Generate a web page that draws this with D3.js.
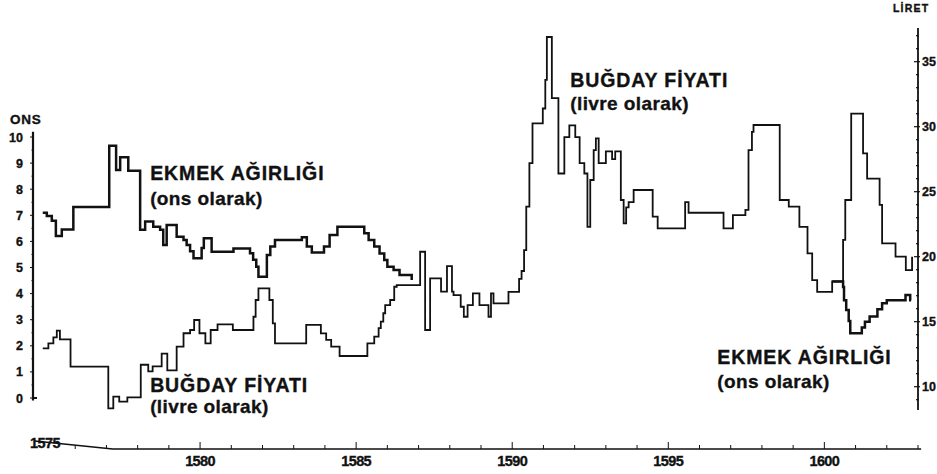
<!DOCTYPE html>
<html>
<head>
<meta charset="utf-8">
<script src="https://cdn.jsdelivr.net/npm/d3@7/dist/d3.min.js"></script>
<style>
  body { margin: 0; background: #fff; }
  svg text { font-family: "Liberation Sans", Arial, sans-serif; font-weight: bold; fill: #111; stroke: #111; stroke-width: 0.35; }
</style>
</head>
<body>
<div id="chart"></div>
<script>
// bread weight (ounces), step starts: [year, ons]
var breadEarly = [
  [1574.96, 7.10], [1575.09, 6.97], [1575.25, 6.79], [1575.38, 6.21], [1575.57, 6.46],
  [1575.94, 7.32], [1577.09, 9.66], [1577.31, 8.74], [1577.44, 9.22], [1577.70, 8.71],
  [1578.08, 6.45], [1578.24, 6.76], [1578.50, 6.56], [1578.72, 6.45], [1578.82, 5.86],
  [1578.93, 6.63], [1579.25, 6.18], [1579.47, 6.05], [1579.57, 5.86], [1579.68, 5.62],
  [1579.79, 5.35], [1580.05, 5.75], [1580.12, 6.12], [1580.37, 5.60], [1581.07, 5.73],
  [1581.60, 5.55], [1581.70, 5.30], [1581.80, 5.03], [1581.87, 4.65], [1582.14, 5.48],
  [1582.25, 5.80], [1582.40, 6.05], [1583.26, 6.16], [1583.42, 5.80], [1583.58, 5.57],
  [1583.97, 5.80], [1584.15, 6.25], [1584.40, 6.56], [1585.26, 6.31], [1585.40, 6.05],
  [1585.58, 5.80], [1585.75, 5.54], [1585.90, 5.29], [1586.00, 5.03], [1586.20, 4.90],
  [1586.39, 4.71], [1586.78, 4.52]
];
var breadLate = [
  [1600.25, 4.46], [1600.60, 4.25], [1600.63, 3.75], [1600.70, 3.37], [1600.78, 2.95],
  [1600.83, 2.48], [1601.20, 2.70], [1601.30, 2.92], [1601.45, 3.12], [1601.70, 3.40],
  [1601.85, 3.63], [1602.00, 3.75], [1602.60, 3.95], [1602.75, 3.75], [1602.78, 3.75]
];
// wheat price (livres), step starts: [year, livre]
var wheatPrice = [
  [1574.96, 12.95], [1575.14, 13.34], [1575.30, 13.80], [1575.41, 14.31], [1575.51, 13.64],
  [1575.85, 11.55], [1577.06, 8.34], [1577.22, 9.23], [1577.41, 8.85], [1577.67, 9.18],
  [1578.10, 11.69], [1578.34, 11.18], [1578.48, 11.57], [1578.77, 12.54], [1578.95, 11.26],
  [1579.25, 13.08], [1579.47, 14.11], [1579.68, 14.36], [1579.81, 15.13], [1579.98, 14.11],
  [1580.17, 13.34], [1580.34, 14.36], [1580.56, 14.80], [1581.05, 14.36], [1581.71, 15.38],
  [1581.78, 16.67], [1581.87, 17.57], [1582.22, 16.67], [1582.33, 14.87], [1582.40, 13.34],
  [1583.40, 14.75], [1583.87, 14.10], [1584.04, 13.60], [1584.20, 13.08], [1584.47, 12.36],
  [1585.36, 13.34], [1585.58, 13.85], [1585.72, 14.50], [1585.79, 15.00], [1585.87, 15.65],
  [1585.93, 16.28], [1586.09, 16.67], [1586.22, 17.69], [1586.30, 17.82], [1587.05, 20.38],
  [1587.21, 14.36], [1587.37, 18.34], [1587.72, 17.31], [1587.91, 19.28], [1588.07, 17.31],
  [1588.12, 17.05], [1588.35, 16.15], [1588.45, 15.38], [1588.57, 16.28], [1588.74, 17.18],
  [1588.95, 16.28], [1589.24, 15.38], [1589.32, 17.18], [1589.40, 16.41], [1589.88, 17.30],
  [1590.22, 18.30], [1590.30, 18.90], [1590.38, 20.50], [1590.45, 23.85], [1590.55, 27.20],
  [1590.65, 30.26], [1590.98, 31.40], [1591.06, 33.60], [1591.11, 36.90], [1591.27, 32.20],
  [1591.48, 26.40], [1591.67, 29.20], [1591.83, 30.10], [1592.02, 29.20], [1592.16, 27.20],
  [1592.31, 26.40], [1592.41, 22.30], [1592.50, 25.90], [1592.61, 28.20], [1592.68, 29.10],
  [1592.77, 27.20], [1593.00, 28.10], [1593.20, 27.50], [1593.30, 28.10], [1593.48, 24.36],
  [1593.57, 22.57], [1593.65, 23.80], [1593.73, 24.20], [1593.89, 25.13], [1594.50, 23.08],
  [1594.66, 22.18], [1595.54, 24.20], [1595.65, 23.38], [1596.77, 22.18], [1597.07, 23.20],
  [1597.47, 23.60], [1597.57, 28.20], [1597.68, 29.60], [1597.73, 30.13], [1598.57, 24.36],
  [1598.86, 23.85], [1599.20, 22.30], [1599.46, 20.26], [1599.61, 18.20], [1599.77, 17.30],
  [1600.25, 18.10], [1600.60, 21.30], [1600.67, 24.36], [1600.86, 31.00], [1601.24, 27.95],
  [1601.37, 26.00], [1601.77, 23.98], [1601.85, 21.03], [1602.28, 20.00], [1602.61, 18.97],
  [1602.81, 20.00]
];

var onsTicks = d3.range(0, 11);
var liretTicks = [10, 15, 20, 25, 30, 35];
var yearLabels = [1575, 1580, 1585, 1590, 1595, 1600];
var breadTitle = ["EKMEK AĞIRLIĞI", "(ons olarak)"];
var wheatTitle = ["BUĞDAY FİYATI", "(livre olarak)"];

var width = 937, height = 474;
var svg = d3.select("#chart").append("svg")
  .attr("width", width).attr("height", height);

var x = d3.scaleLinear().domain([1575, 1603]).range([44, 918]);
var yL = d3.scaleLinear().domain([0, 10]).range([398, 137]);
var yR = d3.scaleLinear().domain([10, 35]).range([386.7, 61.7]);

var ink = "#111";
var narrow = "'Liberation Sans Narrow', 'Liberation Sans', sans-serif";

// left axis (ons)
var leftX = 33;
svg.append("line")
  .attr("x1", leftX).attr("x2", leftX)
  .attr("y1", yL(10.2)).attr("y2", yL(-0.1))
  .attr("stroke", ink).attr("stroke-width", 2.2);
svg.selectAll(".lminor").data(d3.range(0, 10.01, 0.5))
  .enter().append("line")
  .attr("x1", leftX).attr("x2", function(d) { return leftX - (d % 1 === 0 ? 3 : 1.5); })
  .attr("y1", function(d) { return yL(d); }).attr("y2", function(d) { return yL(d); })
  .attr("stroke", ink).attr("stroke-width", 1);
svg.append("line")
  .attr("x1", leftX).attr("x2", leftX + 4)
  .attr("y1", yL(0)).attr("y2", yL(0))
  .attr("stroke", ink).attr("stroke-width", 2);
svg.selectAll(".ltick").data(onsTicks)
  .enter().append("text")
  .attr("x", 23).attr("y", function(d) { return yL(d) + 4.5; })
  .attr("text-anchor", "end")
  .attr("font-size", 12.5)
  .style("font-family", narrow)
  .text(function(d) { return d; });
svg.append("text")
  .attr("x", 10).attr("y", 124)
  .attr("font-size", 13.5)
  .attr("letter-spacing", 0.8)
  .text("ONS");

// right axis (liret)
var rightX = 918;
svg.append("line")
  .attr("x1", rightX).attr("x2", rightX)
  .attr("y1", yR(37.6)).attr("y2", yR(8.2))
  .attr("stroke", ink).attr("stroke-width", 1.8);
svg.selectAll(".rminor").data(d3.range(9, 38, 1))
  .enter().append("line")
  .attr("x1", function(d) { return rightX - (d % 5 === 0 ? 4 : 2); })
  .attr("x2", function(d) { return rightX + (d % 5 === 0 ? 2 : 1); })
  .attr("y1", function(d) { return yR(d); }).attr("y2", function(d) { return yR(d); })
  .attr("stroke", ink).attr("stroke-width", 1.2);
svg.selectAll(".rtick").data(liretTicks)
  .enter().append("text")
  .attr("x", 922).attr("y", function(d) { return yR(d) + 4.5; })
  .attr("font-size", 12.5)
  .style("font-family", narrow)
  .text(function(d) { return d; });
svg.append("text")
  .attr("x", 893).attr("y", 12)
  .attr("font-size", 10.5)
  .attr("letter-spacing", 1.2)
  .text("LİRET");

// bottom axis: sloped start then flat
var baseY = 449;
svg.append("path")
  .attr("d", d3.line()([[x(1574.7), 441], [x(1577.2), baseY], [x(1603.1), baseY]]))
  .attr("fill", "none").attr("stroke", ink).attr("stroke-width", 1.6);
svg.selectAll(".xtick").data(d3.range(1576, 1604))
  .enter().append("line")
  .attr("x1", function(d) { return x(d); }).attr("x2", function(d) { return x(d); })
  .attr("y1", baseY).attr("y2", function(d) { return baseY - (d % 5 === 0 ? 7 : 4); })
  .attr("stroke", ink).attr("stroke-width", 1);
svg.selectAll(".xlabel").data(yearLabels)
  .enter().append("text")
  .attr("x", function(d) { return d === 1575 ? x(d) + 1 : x(d); })
  .attr("y", function(d) { return d === 1575 ? 448 : 466; })
  .attr("text-anchor", "middle")
  .attr("font-size", 14.5)
  .style("font-family", narrow)
  .attr("letter-spacing", -0.6)
  .text(function(d) { return d; });

// series
var stepL = d3.line().curve(d3.curveStepAfter)
  .x(function(d) { return x(d[0]); }).y(function(d) { return yL(d[1]); });
var stepR = d3.line().curve(d3.curveStepAfter)
  .x(function(d) { return x(d[0]); }).y(function(d) { return yR(d[1]); });

svg.append("path").datum(wheatPrice)
  .attr("d", stepR)
  .attr("fill", "none").attr("stroke", ink).attr("stroke-width", 1.8);
[breadEarly, breadLate].forEach(function(seg) {
  svg.append("path").datum(seg)
    .attr("d", stepL)
    .attr("fill", "none").attr("stroke", ink).attr("stroke-width", 2.5);
});

// titles
function title(lines, yr, yVal1, yVal2, scale) {
  svg.append("text").attr("x", x(yr)).attr("y", scale(yVal1))
    .attr("font-size", 19.5).attr("letter-spacing", 0.9).text(lines[0]);
  svg.append("text").attr("x", x(yr)).attr("y", scale(yVal2))
    .attr("font-size", 19).attr("letter-spacing", 0.4).text(lines[1]);
}
title(breadTitle, 1578.4, 8.35, 7.39, yL);
title(wheatTitle, 1578.4, 9.59, 7.97, yR);
title(wheatTitle, 1591.86, 33.05, 31.28, yR);
title(breadTitle, 1596.57, 1.30, 0.38, yL);
</script>
</body>
</html>
